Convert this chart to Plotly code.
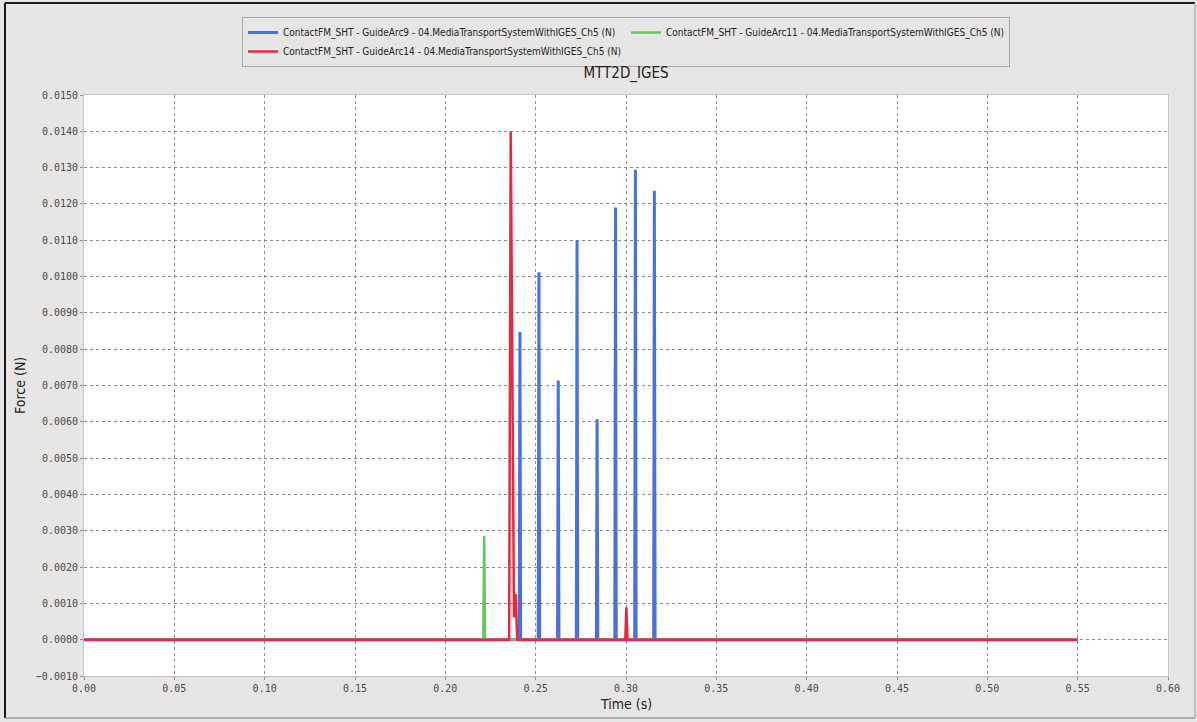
import plotly.graph_objects as go

# ---------------- data ----------------
t_start = 0.0
t_end = 0.55

blue_peak_times = [0.2413, 0.2518, 0.2625, 0.2729, 0.2840, 0.2942, 0.3052, 0.3157]
blue_peak_values = [0.00847, 0.01012, 0.00714, 0.01100, 0.00607, 0.01190, 0.01294, 0.01236]
blue_half_width = 0.0004

green_peak_times = [0.2215]
green_peak_values = [0.00286]
green_half_width = 0.0005

red_times = [0.0, 0.2353, 0.2362, 0.2380, 0.2389, 0.2398, 0.2996, 0.3002, 0.3008, 0.55]
red_values = [0.0, 0.0, 0.01400, 0.00062, 0.00126, 0.0, 0.0, 0.00089, 0.0, 0.0]

names = [
    "ContactFM_SHT - GuideArc9 - 04.MediaTransportSystemWithIGES_Ch5 (N)",
    "ContactFM_SHT - GuideArc11 - 04.MediaTransportSystemWithIGES_Ch5 (N)",
    "ContactFM_SHT - GuideArc14 - 04.MediaTransportSystemWithIGES_Ch5 (N)",
]
colors = ["#4a70dc", "#66c766", "#e8283c"]

x_ticks = [round(0.05 * i, 2) for i in range(13)]
y_ticks = [round(-0.001 + 0.001 * i, 4) for i in range(17)]


def spikes(times, values, hw):
    xs, ys = [t_start], [0.0]
    for t, v in zip(times, values):
        xs += [t - hw, t, t + hw]
        ys += [0.0, v, 0.0]
    xs.append(t_end)
    ys.append(0.0)
    return xs, ys


bx, by = spikes(blue_peak_times, blue_peak_values, blue_half_width)
gx, gy = spikes(green_peak_times, green_peak_values, green_half_width)

fig = go.Figure()
fig.add_trace(go.Scatter(x=bx, y=by, mode="lines", name=names[0],
                         line=dict(color=colors[0], width=3)))
fig.add_trace(go.Scatter(x=gx, y=gy, mode="lines", name=names[1],
                         line=dict(color=colors[1], width=2.5)))
fig.add_trace(go.Scatter(x=red_times, y=red_values, mode="lines", name=names[2],
                         line=dict(color=colors[2], width=2.5)))

bg = "#e7e6e5"
tick_font = dict(family="DejaVu Sans Mono, Liberation Mono, monospace", size=10, color="#4e4a46")
ui_font = "DejaVu Sans Condensed, DejaVu Sans, sans-serif"

L, R, T, B = 84, 29, 95, 46
W, H = 1197, 722
pw, ph = W - L - R, H - T - B


def px_x(p):
    return (p - L) / pw


def px_y(p):
    return (H - B - p) / ph


fig.update_layout(
    width=W, height=H,
    margin=dict(l=L, r=R, t=T, b=B),
    paper_bgcolor=bg,
    plot_bgcolor="white",
    title=dict(text="MTT2D_IGES", x=0.5, xanchor="center", xref="paper",
               y=(H - 73) / H, yref="container", yanchor="middle",
               font=dict(family=ui_font, size=15, color="#222222")),
    legend=dict(orientation="h", x=0.5, xanchor="center", y=px_y(17), yanchor="top",
                bgcolor=bg, bordercolor="#a8a8a8", borderwidth=1,
                font=dict(family=ui_font, size=10, color="#222222"),
                entrywidth=338, itemwidth=30, tracegroupgap=0),
    xaxis=dict(range=[0, 0.6], tickvals=x_ticks, tickformat=".2f",
               showgrid=True, gridcolor="#8c8c8c", griddash="dot", gridwidth=1,
               zeroline=False, showline=True, mirror=True, linecolor="#c4c4c4", linewidth=1,
               ticks="outside", ticklen=3, tickcolor="#8c8c8c", tickfont=tick_font),
    yaxis=dict(range=[-0.001, 0.015], tickvals=y_ticks, tickformat=".4f",
               showgrid=True, gridcolor="#8c8c8c", griddash="dot", gridwidth=1,
               zeroline=False, showline=True, mirror=True, linecolor="#c4c4c4", linewidth=1,
               ticks="outside", ticklen=3, tickcolor="#8c8c8c", tickfont=tick_font),
    annotations=[
        dict(text="Time (s)", xref="paper", yref="paper", x=px_x(626), y=px_y(704),
             xanchor="center", yanchor="middle", showarrow=False,
             font=dict(family=ui_font, size=14, color="#222222")),
        dict(text="Force (N)", xref="paper", yref="paper", x=px_x(20), y=px_y(386),
             xanchor="center", yanchor="middle", showarrow=False, textangle=-90,
             font=dict(family=ui_font, size=14, color="#222222")),
    ],
    shapes=[
        dict(type="line", xref="paper", yref="paper", x0=px_x(5), x1=px_x(5),
             y0=px_y(718), y1=px_y(3), line=dict(color="#1a1a1a", width=2)),
        dict(type="line", xref="paper", yref="paper", x0=px_x(5), x1=px_x(1195),
             y0=px_y(3), y1=px_y(3), line=dict(color="#1a1a1a", width=2)),
        dict(type="line", xref="paper", yref="paper", x0=px_x(5), x1=px_x(1195),
             y0=px_y(718), y1=px_y(718), line=dict(color="#9a9a9a", width=1.5)),
        dict(type="line", xref="paper", yref="paper", x0=px_x(1195), x1=px_x(1195),
             y0=px_y(718), y1=px_y(3), line=dict(color="#b0b0b0", width=1.5)),
    ],
)

fig.write_html("out.html",
               config={"displayModeBar": False},
               post_script="document.body.style.margin='0px';document.body.style.overflow='hidden';")
